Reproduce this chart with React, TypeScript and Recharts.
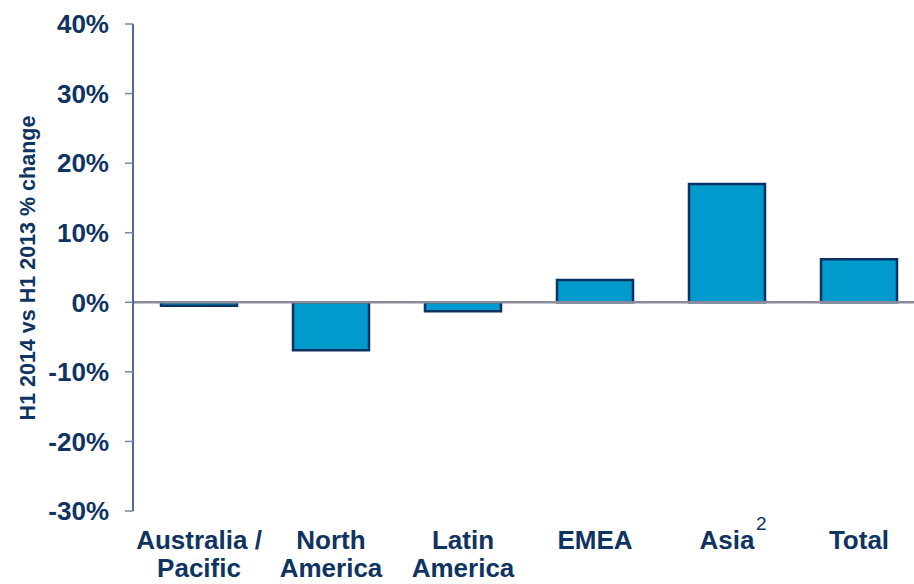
import React from 'react';
import { BarChart, Bar, XAxis, YAxis, ReferenceLine } from 'recharts';

const regions = ['Australia / Pacific', 'North America', 'Latin America', 'EMEA', 'Asia', 'Total'];
const changePct = [-0.5, -6.9, -1.3, 3.2, 17.0, 6.2];
const yTicks = [-30, -20, -10, 0, 10, 20, 30, 40];
// first and second line of each category label, plus footnote marker
const labelLines: Record<string, [string, string]> = {
  'Australia / Pacific': ['Australia /', 'Pacific'],
  'North America': ['North', 'America'],
  'Latin America': ['Latin', 'America'],
  EMEA: ['EMEA', ''],
  Asia: ['Asia', ''],
  Total: ['Total', ''],
};
const footnotes: Record<string, string> = { Asia: '2' };

const NAVY = '#0f3461';
const FONT = '"Liberation Sans", Arial, Helvetica, sans-serif';

const data = regions.map((region, i) => ({ region, change: changePct[i] }));

interface TickProps {
  x?: number;
  y?: number;
  payload?: { value: string };
}

function RegionTick({ x = 0, payload }: TickProps) {
  const name = payload ? payload.value : '';
  const [first, second] = labelLines[name] || [name, ''];
  const note = footnotes[name];
  return (
    <g>
      <text x={x} y={549} textAnchor="middle" fill={NAVY} fontSize={26} fontWeight="bold" fontFamily={FONT}>
        {first}
      </text>
      {second && (
        <text x={x} y={577} textAnchor="middle" fill={NAVY} fontSize={26} fontWeight="bold" fontFamily={FONT}>
          {second}
        </text>
      )}
      {note && (
        <text x={x + 29} y={530} textAnchor="start" fill={NAVY} fontSize={19} fontFamily={FONT}>
          {note}
        </text>
      )}
    </g>
  );
}

export default function App() {
  return (
    <div
      style={{
        position: 'absolute',
        left: 0,
        top: 0,
        width: 914,
        height: 584,
        overflow: 'hidden',
        background: '#ffffff',
      }}
    >
      <BarChart
        width={940}
        height={584}
        data={data}
        margin={{ top: 24, right: 15, bottom: 0, left: 0 }}
      >
        <XAxis
          dataKey="region"
          height={73}
          axisLine={false}
          tickLine={false}
          interval={0}
          tick={<RegionTick />}
        />
        <YAxis
          width={133}
          domain={[-30, 40]}
          ticks={yTicks}
          interval={0}
          tickFormatter={(v: number) => `${v}%`}
          axisLine={{ stroke: '#163a6a', strokeWidth: 1.5 }}
          tickLine={{ stroke: '#7089ab', strokeWidth: 1.5 }}
          tickSize={8}
          tickMargin={16}
          tick={{ fill: NAVY, fontSize: 26, fontWeight: 'bold', fontFamily: FONT }}
          label={{
            content: () => (
              <text
                x={28}
                y={268}
                transform="rotate(-90 28 268)"
                textAnchor="middle"
                dominantBaseline="central"
                fill={NAVY}
                fontSize={21.5}
                fontWeight="bold"
                fontFamily={FONT}
              >
                H1 2014 vs H1 2013 % change
              </text>
            ),
          }}
        />
        <Bar
          dataKey="change"
          fill="#009acd"
          stroke="#0b3263"
          strokeWidth={2.5}
          barSize={76}
          isAnimationActive={false}
        />
        <ReferenceLine y={0} stroke="#8a8c9c" strokeWidth={2.5} />
      </BarChart>
    </div>
  );
}
